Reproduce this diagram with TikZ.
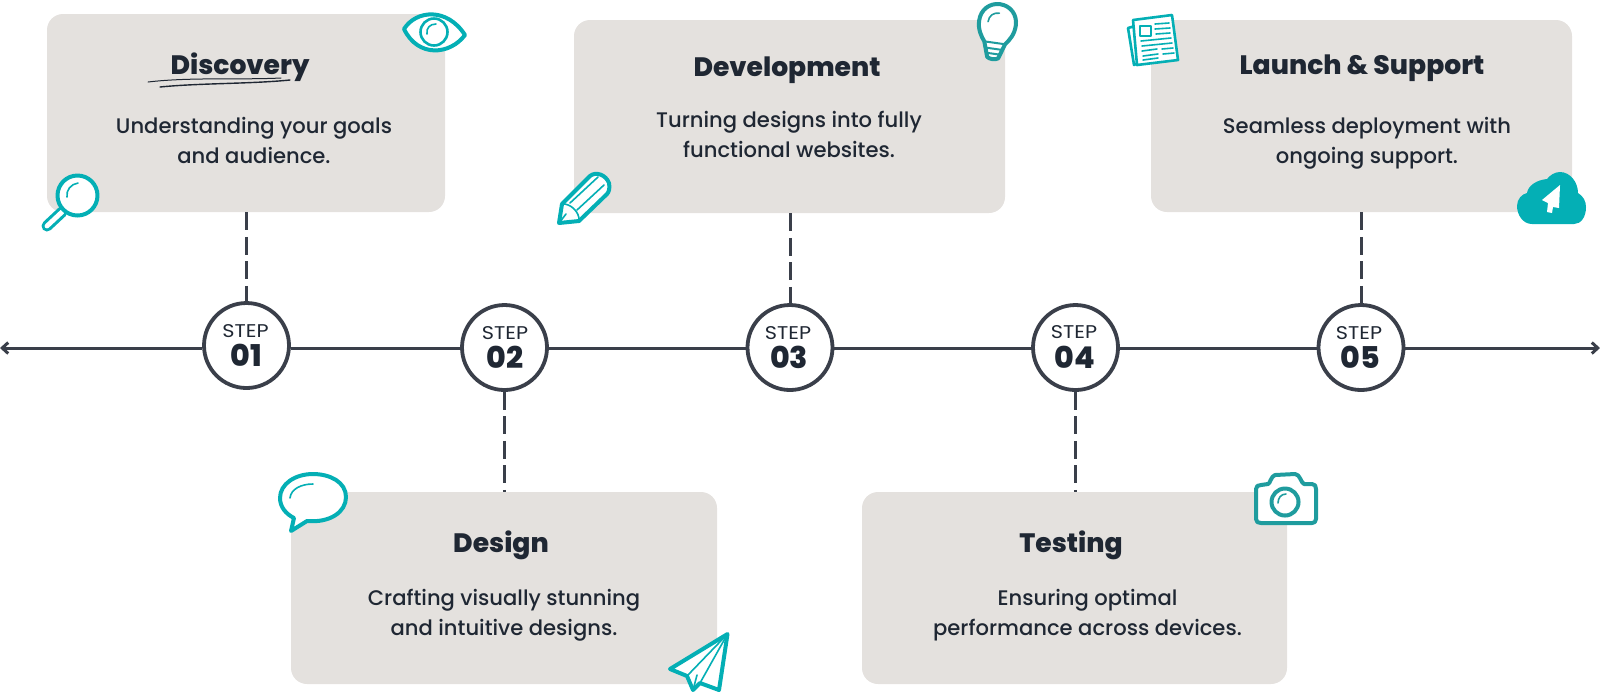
\documentclass[tikz,border=0pt]{standalone}
\usepackage{fontspec}
\setmainfont{Poppins}
\newfontfamily\bodyfont{Poppins Medium}
\newfontfamily\titlefont{Poppins ExtraBold}
\usetikzlibrary{arrows.meta}
\definecolor{boxgrey}{HTML}{E4E1DE}
\definecolor{inkdark}{HTML}{1F2733}
\definecolor{linedark}{HTML}{3A3F4A}
\definecolor{tealA}{HTML}{04AFB5}
\definecolor{tealB}{HTML}{1F9C9E}
\tikzset{
 x=0.5pt,y=-0.5pt,
 card/.style={fill=boxgrey,rounded corners=8pt,inner sep=0pt},
 axisline/.style={draw=linedark,line width=1.5pt},
 tiedash/.style={draw=linedark,line width=1.5pt,dash pattern=on 9pt off 3.25pt},
 stepcircle/.style={circle,draw=linedark,fill=white,line width=1.9pt,minimum size=42.5pt,inner sep=0pt},
 steplabel/.style={anchor=base,inner sep=0pt,text=inkdark,font=\addfontfeature{FakeStretch=1.13}\fontsize{9.2}{10}\selectfont},
 stepnum/.style={anchor=base,inner sep=0pt,text=inkdark,font=\titlefont\fontsize{15}{16}\selectfont},
 cardtitle/.style={anchor=base,inner sep=0pt,text=inkdark,font=\titlefont\fontsize{13.3}{16}\selectfont},
 cardbody/.style={anchor=base,inner sep=0pt,text=inkdark,align=center,font=\bodyfont\fontsize{10.55}{15}\selectfont},
 iconA/.style={draw=tealA,fill=white,line width=2pt,line join=round,line cap=round},
 iconB/.style={draw=tealB,fill=white,line width=2pt,line join=round,line cap=round},
 fineA/.style={draw=tealA,line width=0.8pt,line cap=round,line join=round},
 fineB/.style={draw=tealB,line width=0.8pt,line cap=round,line join=round},
}
\begin{document}
\begin{tikzpicture}
\useasboundingbox (0,0) rectangle (1600,693);
% cards
\node[card,minimum width=199pt,minimum height=99pt] (b1) at (246,113) {};
\node[card,minimum width=215.5pt,minimum height=96.5pt] (b3) at (789.5,116.5) {};
\node[card,minimum width=210.5pt,minimum height=96pt] (b5) at (1361.5,116) {};
\node[card,minimum width=213pt,minimum height=96pt] (b2) at (504,588) {};
\node[card,minimum width=212.5pt,minimum height=96pt] (b4) at (1074.5,588) {};
% circles
\node[stepcircle] (c1) at (246.5,345.5) {};
\node[stepcircle] (c2) at (504.5,347.5) {};
\node[stepcircle] (c3) at (790,347.5) {};
\node[stepcircle] (c4) at (1075.5,347.5) {};
\node[stepcircle] (c5) at (1361,347.5) {};
% axis
\coordinate (L) at (0,348);
\coordinate (R) at (1600,348);
\draw[axisline,{Straight Barb[length=3pt,width=5.5pt]}-] (L) -- (c1.west |- L);
\draw[axisline] (c1.east |- L) -- (c2.west |- L);
\draw[axisline] (c2.east |- L) -- (c3.west |- L);
\draw[axisline] (c3.east |- L) -- (c4.west |- L);
\draw[axisline] (c4.east |- L) -- (c5.west |- L);
\draw[axisline,-{Straight Barb[length=3pt,width=5.5pt]}] (c5.east |- L) -- (R);
% ties
\draw[tiedash] (b1.south -| c1.north) -- (c1.north);
\draw[tiedash] (c2.south) -- (c2.south |- b2.north);
\draw[tiedash] (b3.south -| c3.north) -- (c3.north);
\draw[tiedash] (c4.south) -- (c4.south |- b4.north);
\draw[tiedash] (b5.south -| c5.north) -- (c5.north);
% step labels
\node[steplabel] (s1) at (245.5,337) {STEP};
\node[stepnum] (n1) at (246,366) {01};
\node[steplabel] (s2) at (505,339) {STEP};
\node[stepnum] (n2) at (505,368) {02};
\node[steplabel] (s3) at (788,339) {STEP};
\node[stepnum] (n3) at (789,368) {03};
\node[steplabel] (s4) at (1074,338) {STEP};
\node[stepnum] (n4) at (1075,368) {04};
\node[steplabel] (s5) at (1359,339) {STEP};
\node[stepnum] (n5) at (1360,368) {05};
% titles and bodies
\node[cardtitle] (t1) at (240,74) {Discovery};
\node[cardbody] (d1) at (254,163) {Understanding your goals\\and audience.};
\node[cardtitle] (t3) at (787,76) {Development};
\node[cardbody] (d3) at (789,157) {Turning designs into fully\\functional websites.};
\node[cardtitle] (t5) at (1362,74) {Launch \& Support};
\node[cardbody] (d5) at (1367,163) {Seamless deployment with\\ongoing support.};
\node[cardtitle] (t2) at (501,552) {Design};
\node[cardbody] (d2) at (504,635) {Crafting visually stunning\\and intuitive designs.};
\node[cardtitle] (t4) at (1071,552) {Testing};
\node[cardbody] (d4) at (1087.5,635) {Ensuring optimal\\performance across devices.};
% scribble under Discovery
\draw[inkdark,line width=0.5pt,line cap=round] (148,82) .. controls (190,77) and (240,80) .. (281,78);
\draw[inkdark,line width=0.7pt,line cap=round] (160,87) .. controls (200,83) and (250,84) .. (290,80);
% eye
\draw[iconA] (404,29) .. controls (416,10) and (447,7) .. (465,35) .. controls (450,55) and (418,58) .. (404,29) -- cycle;
\draw[iconA,line width=1.3pt] (434,32) circle[radius=13.5];
\draw[fineA] (427,34) .. controls (426,28) and (430,24) .. (436,24);
% magnifier
\draw[tealA,line width=5.5pt,line cap=round] (47,226) -- (62,212);
\draw[white,line width=2.4pt,line cap=round] (47,226) -- (62,212);
\draw[iconA] (77.5,195.5) circle[radius=20];
\draw[fineA] (67,197) .. controls (66,190) and (71,184) .. (78,183);
% pencil
\draw[iconA] (559,223) -- (562,204) -- (590,176) .. controls (596,171) and (606,175) .. (609,183) .. controls (610,188) and (609,192) .. (607,194) -- (579,221) -- cycle;
\draw[fineA] (562,204) .. controls (570,203) and (580,212) .. (579,221);
\draw[fineA] (570,203) -- (598,177);
\draw[fineA] (577,210) -- (604,185);
\draw[fineA] (559,223) -- (566,214);
% bulb
\begin{scope}[rotate around={-8:(997,30)}]
\draw[iconB] (991,58) -- (986,43) .. controls (982,38) and (978,32) .. (978,23) .. controls (978,12) and (986,4) .. (996.5,4) .. controls (1007,4) and (1015,12) .. (1015,23) .. controls (1015,32) and (1011,38) .. (1007,43) -- (1002,58) .. controls (999,60) and (994,60) .. (991,58) -- cycle;
\draw[fineB,line width=1pt] (986,43) -- (1007,43);
\draw[fineB,line width=1pt] (988,49) -- (1005,49);
\draw[fineB,line width=1pt] (990,54) -- (1003,54);
\draw[fineB] (987,23) .. controls (987,17) and (991,13) .. (997,13);
\end{scope}
% newspaper
\draw[iconA,line width=1.3pt] (1128,28) -- (1135,26) -- (1140,62) -- (1134,65) -- cycle;
\draw[iconA,line width=1.3pt] (1133,20) -- (1172,15) -- (1178,60) -- (1137,65) -- cycle;
\draw[fineA,line width=1pt] (1140,26) rectangle (1151,36);
\draw[fineA] (1155,24) -- (1169,23);
\draw[fineA] (1155,29) -- (1170,28);
\draw[fineA] (1156,34) -- (1170,33);
\draw[fineA] (1141,41) -- (1171,38);
\draw[fineA] (1142,46) -- (1172,43);
\draw[fineA] (1142,51) -- (1157,49);
\draw[fineA] (1143,56) -- (1158,54);
\draw[fineA] (1162,49) -- (1173,48);
\draw[fineA] (1163,54) -- (1174,53);
\draw[fineA] (1143,60) -- (1158,58);
% cloud
\fill[tealA] (1532,224) .. controls (1523,224) and (1517,215) .. (1517,206) .. controls (1517,199) and (1522,194) .. (1527,193) .. controls (1528,186) and (1536,180) .. (1547,179) .. controls (1550,175) and (1555,172) .. (1560,172) .. controls (1570,172) and (1578,182) .. (1578,193) .. controls (1583,196) and (1586,201) .. (1586,207) .. controls (1586,217) and (1581,224) .. (1574,224) -- cycle;
\fill[white] (1560,185) -- (1542,200) -- (1548,203) -- (1547,212) -- (1552,213) -- (1553,207) -- (1559,208) -- cycle;
% speech bubble
\draw[iconA] (307,521) .. controls (330,523) and (346,512) .. (346,497) .. controls (346,482) and (330,474) .. (313,474) .. controls (295,474) and (280,484) .. (280,498) .. controls (280,507) and (286,514) .. (294,518) -- (291,531) -- cycle;
\draw[fineA] (290,498) .. controls (291,489) and (301,484) .. (313,484);
% paper plane
\draw[iconA] (727.5,634) -- (670,669) -- (687,676) -- (693,690) -- (700,683) -- (719,690) -- cycle;
\draw[fineA] (727.5,634) -- (687,676);
\draw[fineA] (727.5,634) -- (700,683);
\draw[fineA] (693,690) -- (697,675);
% camera
\draw[iconB] (1256,489) .. controls (1256,486) and (1258,485) .. (1261,485) -- (1268,484) .. controls (1270,484) and (1271,476) .. (1275,475) -- (1295,474) .. controls (1300,474) and (1301,483) .. (1304,484) -- (1312,484) .. controls (1315,484) and (1316,486) .. (1316,489) -- (1316,519) .. controls (1316,522) and (1314,523) .. (1312,523) -- (1261,523) .. controls (1258,523) and (1256,522) .. (1256,519) -- cycle;
\draw[iconB] (1285,502) circle[radius=13.5];
\draw[fineB] (1278,503) .. controls (1278,498) and (1281,494) .. (1286,494);
\end{tikzpicture}
\end{document}
